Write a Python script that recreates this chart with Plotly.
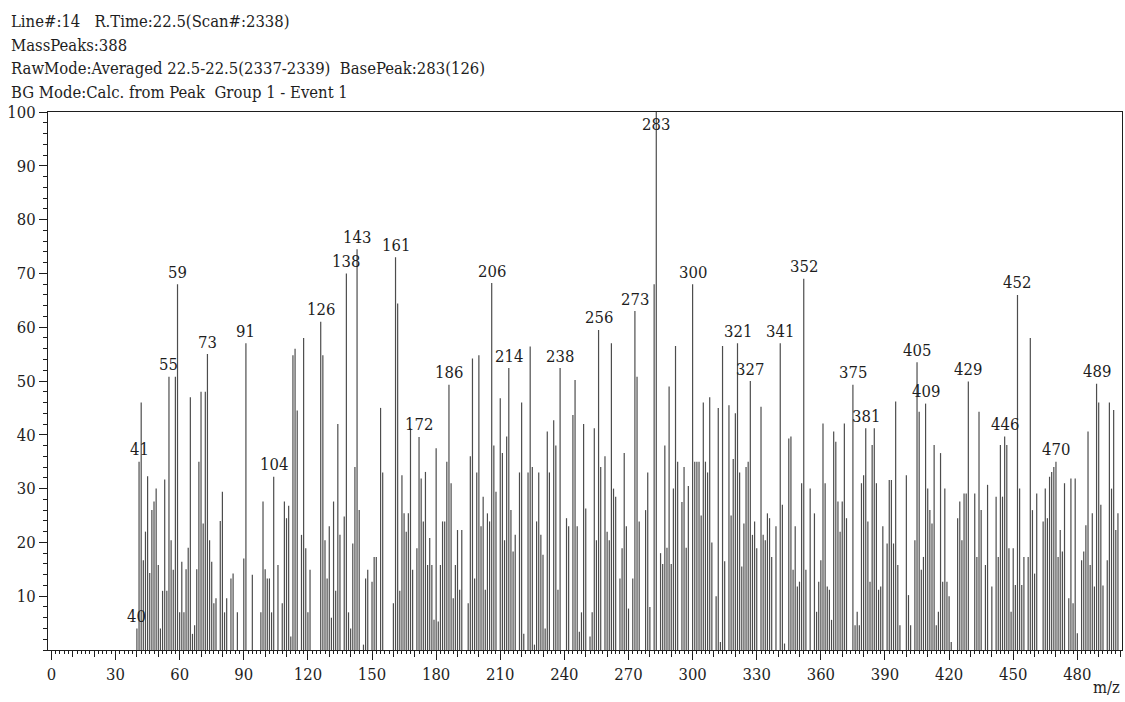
import plotly.graph_objects as go

# Mass spectrum, line #14, R.Time 22.5 min (averaged scans 2337-2339)
HEADER_LINES = [
    "Line#:14\u00a0\u00a0\u00a0R.Time:22.5(Scan#:2338)",
    "MassPeaks:388",
    "RawMode:Averaged 22.5-22.5(2337-2339)\u00a0\u00a0BasePeak:283(126)",
    "BG Mode:Calc. from Peak\u00a0\u00a0Group 1 - Event 1",
]

MZ = [
    40, 41, 42, 43, 44, 45, 46, 47, 48, 49, 50, 51, 52, 53, 54, 55, 56, 57, 58, 59,
    60, 61, 62, 63, 64, 65, 66, 67, 68, 69, 70, 71, 72, 73, 74, 75, 76, 77, 79, 80,
    81, 82, 84, 85, 87, 90, 91, 94, 98, 99, 100, 101, 102, 103, 104, 106, 108, 109, 110, 111,
    112, 113, 114, 115, 117, 118, 119, 120, 121, 126, 127, 128, 129, 130, 131, 132, 133, 134, 135, 137,
    138, 139, 140, 141, 142, 143, 144, 146, 147, 148, 150, 151, 152, 154, 155, 160, 161, 162, 163, 164,
    165, 166, 167, 168, 169, 171, 172, 173, 174, 175, 176, 177, 178, 179, 180, 181, 182, 183, 184, 185,
    186, 187, 188, 189, 190, 191, 192, 195, 196, 197, 198, 199, 200, 201, 202, 203, 204, 205, 206, 207,
    208, 210, 211, 212, 213, 214, 215, 216, 217, 219, 220, 221, 223, 224, 225, 226, 227, 228, 229, 230,
    231, 232, 233, 235, 236, 237, 238, 241, 242, 244, 245, 246, 247, 248, 249, 250, 252, 253, 254, 255,
    256, 257, 259, 260, 261, 262, 263, 264, 266, 267, 268, 269, 270, 272, 273, 274, 275, 278, 279, 280,
    282, 283, 285, 286, 287, 288, 289, 290, 291, 292, 293, 295, 296, 297, 298, 300, 301, 302, 303, 304,
    305, 306, 307, 308, 309, 311, 312, 313, 314, 315, 317, 318, 319, 320, 321, 322, 323, 324, 325, 326,
    327, 328, 329, 330, 332, 333, 334, 335, 336, 337, 339, 341, 342, 343, 345, 346, 347, 348, 349, 350,
    351, 352, 353, 355, 357, 358, 359, 360, 361, 362, 363, 364, 365, 366, 367, 368, 369, 370, 371, 372,
    375, 376, 377, 378, 379, 380, 381, 382, 383, 384, 385, 386, 387, 388, 389, 391, 392, 393, 394, 395,
    396, 397, 400, 401, 402, 404, 405, 406, 407, 408, 409, 410, 411, 412, 413, 414, 415, 416, 417, 418,
    419, 420, 421, 424, 425, 426, 427, 428, 429, 432, 433, 434, 435, 437, 438, 440, 442, 443, 444, 445,
    446, 447, 448, 449, 450, 451, 452, 453, 454, 455, 457, 458, 459, 460, 461, 464, 465, 466, 467, 468,
    469, 470, 471, 472, 473, 474, 476, 477, 478, 479, 480, 482, 483, 484, 485, 486, 487, 488, 489, 490,
    491, 492, 494, 495, 496, 497, 498, 499,
]

INTENSITY = [
    4, 35, 46, 16.7, 22, 32.3, 14.3, 26, 27.6, 30, 15.8, 4, 11, 31.7, 11, 50.8, 20.4, 14.9, 50.8, 68,
    7, 16.4, 7, 15, 19, 47, 3, 4.6, 15, 35, 48, 23.5, 48, 55, 20.4, 16.4, 8.7, 9.6, 24, 29.4,
    7, 9.6, 13.3, 14.2, 7, 17, 57, 14, 7, 27.6, 15, 13.3, 13.3, 7, 32.2, 15.8, 8.7, 27.6, 24.5, 26.8,
    2.5, 54.8, 56, 44.5, 21.4, 58, 18.9, 7, 14.9, 61, 54.8, 20.4, 13.3, 23, 6, 27.6, 11, 42, 21.4, 24.8,
    70, 7, 4, 19.8, 34, 74.5, 26, 1, 13.3, 14.9, 12.7, 17.3, 17.3, 45, 33, 8.7, 73, 64.4, 11, 32.5,
    25.4, 22, 25.4, 41.2, 14.9, 18.9, 39.6, 31.9, 23.9, 33.1, 15.8, 20.8, 15.8, 5.6, 37.5, 5.3, 15.8, 23.9, 23.9, 35,
    49.3, 31, 9.6, 15.8, 22.3, 11.2, 22.3, 8.7, 36, 54.2, 13.3, 33, 54.8, 23, 28.5, 11.2, 25.4, 23.9, 68.2, 38,
    29.4, 46.8, 36.6, 20.4, 39.7, 52.4, 26, 18.3, 21.4, 33, 46, 3, 33, 56.4, 34, 1, 23.9, 33, 21.4, 17.7,
    4, 40.6, 33, 42.7, 38, 11.2, 52.4, 24.5, 23, 43.7, 50.2, 23, 3.4, 7, 42, 26.3, 2.5, 7, 41.2, 20.4,
    59.5, 34, 36, 22, 20.4, 57, 30, 28.5, 13.3, 18.9, 36.6, 23, 7.7, 13.3, 63, 50.8, 23.9, 26, 33, 8,
    68, 100, 18, 16, 38, 19, 49, 16, 30, 56.5, 35, 27.5, 34, 19, 30.5, 68, 35, 35, 35, 25,
    46, 35, 33, 47, 20, 10, 45, 1.5, 56.5, 16.5, 45.5, 25, 35.5, 44, 57, 33, 15.5, 23.5, 34, 35,
    50, 21.4, 23.9, 18.9, 45.2, 21.4, 20.4, 25.4, 24.5, 17.3, 23, 57, 27, 1.2, 39.3, 39.7, 14.9, 23, 11.8, 12.7,
    31, 69, 14.9, 30, 25.4, 7.1, 12.7, 16.7, 42.1, 31, 11.8, 11.2, 5.6, 40.6, 38.7, 27.6, 22, 27.6, 42.1, 24.5,
    49.3, 4.6, 7.1, 4.6, 31, 32.5, 41.2, 23.9, 12.7, 38.1, 41.2, 31, 11.2, 11.8, 23, 19.8, 31.6, 31.6, 19.8, 46.2,
    15.8, 4.6, 32.5, 10.2, 4.6, 20.4, 53.5, 44.3, 14.9, 17.3, 45.8, 30, 26, 23.5, 38.1, 4.6, 7.1, 36.6, 12.7, 30,
    12.7, 10, 1.5, 24.5, 27.6, 20.4, 29.1, 29.1, 49.9, 29.1, 17.3, 44.3, 26, 15.8, 30.7, 11.8, 28.5, 17.3, 38.1, 28.5,
    39.7, 38.1, 18.9, 7.1, 18.9, 12.1, 66, 30, 12.1, 17.3, 17.3, 58, 26, 14.2, 29.1, 23.9, 30, 24.5, 32.2, 33.1,
    34, 35, 17.3, 22.3, 18.3, 31, 9.6, 31.9, 8.7, 31.9, 3.1, 16.7, 18.3, 23.2, 40.6, 15.8, 25.4, 11.8, 49.5, 46,
    27, 12, 16.7, 46, 30, 44.6, 22.3, 25.4,
]

# Peaks annotated with their m/z value
LABELED_MZ = [40, 41, 55, 59, 73, 91, 104, 126, 138, 143, 161, 172, 186, 206, 214, 238,
              256, 273, 283, 300, 321, 327, 341, 352, 375, 381, 405, 409, 429, 446, 452,
              470, 489]

X_TICKS = list(range(0, 481, 30))
Y_TICKS = list(range(10, 101, 10))

SERIF = "DejaVu Serif Condensed, DejaVu Serif"
INK = "#1e1e1e"
STICK = "#4d4d4d"
FONT_SIZE = 16.5

# plot-area geometry in pixels
W, H = 1125, 702
L, R, T, B = 48, 3, 112, 52
PW, PH = W - L - R, H - T - B


def px_to_paper(px, py):
    return (px - L) / PW, (H - B - py) / PH


# one vertical stick per m/z, from the baseline up to its relative intensity
stick_x, stick_y = [], []
for m, v in zip(MZ, INTENSITY):
    stick_x += [m, m, None]
    stick_y += [0, v, None]

fig = go.Figure()
fig.add_trace(go.Scatter(
    x=stick_x, y=stick_y, mode="lines",
    line=dict(color=STICK, width=1.2),
    hoverinfo="skip", showlegend=False,
))
# empty trace that carries the secondary tick axis (ticks every 10 units)
fig.add_trace(go.Scatter(x=[None], y=[None], xaxis="x2", yaxis="y",
                         showlegend=False, hoverinfo="skip"))

lookup = dict(zip(MZ, INTENSITY))
annotations = []
for m in LABELED_MZ:
    annotations.append(dict(
        x=m, y=min(lookup[m], 95.5), xref="x", yref="y",
        text=str(m), showarrow=False, xanchor="center", yanchor="middle",
        yshift=12, font=dict(family=SERIF, size=FONT_SIZE, color=INK),
    ))

header_y = [21, 45, 69, 92]
for line, py in zip(HEADER_LINES, header_y):
    hx, hy = px_to_paper(9, py)
    annotations.append(dict(
        x=hx, y=hy, xref="paper", yref="paper", text=line, showarrow=False,
        xanchor="left", yanchor="middle",
        font=dict(family=SERIF, size=FONT_SIZE, color=INK),
    ))

mx, my = px_to_paper(1122, 687)
annotations.append(dict(
    x=mx, y=my, xref="paper", yref="paper", text="m/z", showarrow=False,
    xanchor="right", yanchor="middle",
    font=dict(family=SERIF, size=FONT_SIZE, color=INK),
))

x_range = [-1.6, 500.9]

fig.update_layout(
    width=W, height=H, autosize=False,
    margin=dict(l=L, r=R, t=T, b=B, pad=0),
    paper_bgcolor="white", plot_bgcolor="white",
    font=dict(family=SERIF, size=FONT_SIZE, color=INK),
    annotations=annotations,
    xaxis=dict(
        range=x_range, tickmode="array", tickvals=X_TICKS,
        ticks="outside", ticklen=9, tickwidth=1, tickcolor=INK,
        showline=True, linecolor=INK, linewidth=1, mirror=True,
        showgrid=False, zeroline=False,
        tickfont=dict(family=SERIF, size=FONT_SIZE, color=INK),
        minor=dict(tickmode="linear", tick0=0, dtick=2, ticks="outside",
                   ticklen=3, tickwidth=1, tickcolor=INK, showgrid=False),
    ),
    xaxis2=dict(
        range=x_range, overlaying="x", anchor="y", side="bottom",
        tickmode="linear", tick0=0, dtick=10,
        ticks="outside", ticklen=6, tickwidth=1, tickcolor=INK,
        showticklabels=False, showline=False, showgrid=False, zeroline=False,
    ),
    yaxis=dict(
        range=[0, 100], tickmode="array", tickvals=Y_TICKS,
        ticks="outside", ticklen=8, tickwidth=1, tickcolor=INK,
        showline=True, linecolor=INK, linewidth=1, mirror=True,
        showgrid=False, zeroline=False,
        tickfont=dict(family=SERIF, size=FONT_SIZE, color=INK),
        minor=dict(tickmode="linear", tick0=0, dtick=2, ticks="outside",
                   ticklen=4, tickwidth=1, tickcolor=INK, showgrid=False),
    ),
)

fig.write_html("out.html")
